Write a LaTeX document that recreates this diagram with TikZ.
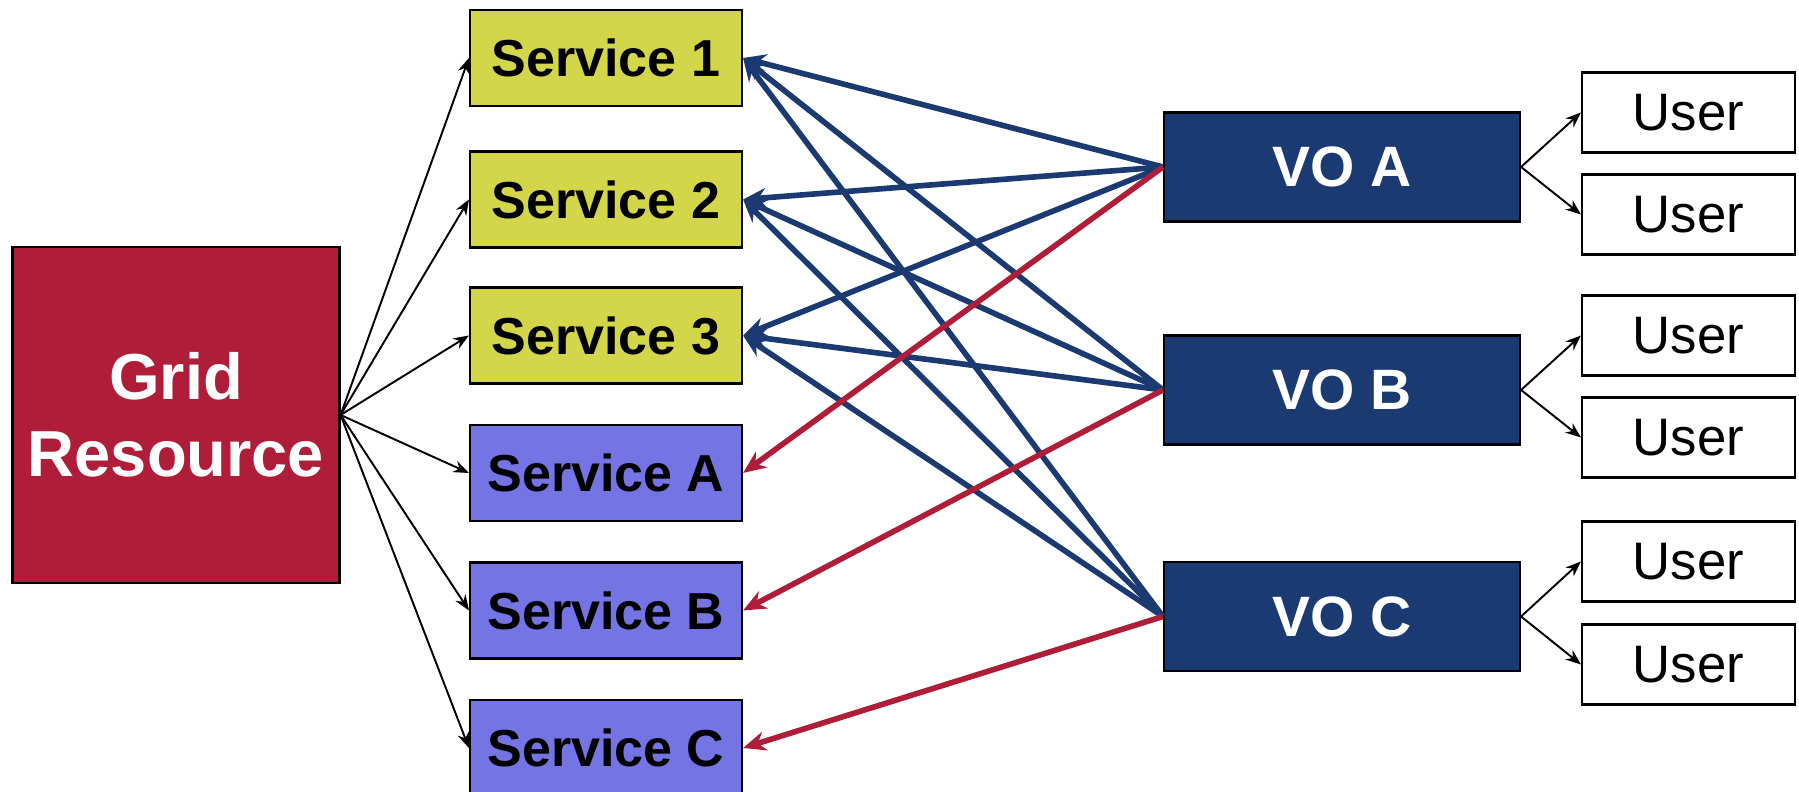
\documentclass[tikz,border=0pt]{standalone}
\usepackage{fontspec}
\setmainfont{Liberation Sans}
\usetikzlibrary{positioning, calc, arrows.meta}
\definecolor{gridred}{RGB}{176,29,57}
\definecolor{svcyellow}{RGB}{212,214,74}
\definecolor{svcblue}{RGB}{116,116,228}
\definecolor{vonavy}{RGB}{28,58,114}
\tikzset{
    resbox/.style={draw=black, line width=0.6pt, fill=gridred, text=white, inner sep=0pt, minimum width=3.27cm, minimum height=3.36cm, align=center, font=\fontsize{18.5}{22}\selectfont\bfseries},
    svcbox/.style={draw=black, line width=0.6pt, inner sep=0pt, minimum width=2.72cm, minimum height=0.96cm, font=\fontsize{14.8}{17}\selectfont\bfseries},
    vobox/.style={draw=black, line width=0.6pt, fill=vonavy, text=white, inner sep=0pt, minimum width=3.56cm, minimum height=1.09cm, font=\fontsize{16.2}{19}\selectfont\bfseries},
    userbox/.style={draw=black, line width=0.6pt, fill=white, inner sep=0pt, minimum width=2.13cm, minimum height=0.80cm, font=\fontsize{15}{18}\selectfont},
    thinarrow/.style={draw=black, line width=0.55pt, -{Stealth[length=4.4pt, width=3.4pt]}},
    bluearrow/.style={draw=vonavy, line width=1.6pt, -{Stealth[length=6.5pt, width=5.5pt]}},
    redarrow/.style={draw=gridred, line width=1.6pt, -{Stealth[length=6.5pt, width=5.5pt]}}
}

\begin{document}
\begin{tikzpicture}
        \useasboundingbox (0,0) rectangle (17.99,7.92);
        % resource
        \node[resbox] (grid) at (1.76,3.77) {Grid\\Resource};
        % services
        \node[svcbox, fill=svcyellow] (s1) at (6.06,7.34) {Service 1};
        \node[svcbox, fill=svcyellow] (s2) at (6.06,5.925) {Service 2};
        \node[svcbox, fill=svcyellow] (s3) at (6.06,4.565) {Service 3};
        \node[svcbox, fill=svcblue] (sa) at (6.06,3.19) {Service A};
        \node[svcbox, fill=svcblue] (sb) at (6.06,1.815) {Service B};
        \node[svcbox, fill=svcblue] (sc) at (6.06,0.44) {Service C};
        % virtual organisations
        \node[vobox] (voa) at (13.42,6.25) {VO A};
        \node[vobox] (vob) at (13.42,4.02) {VO B};
        \node[vobox] (voc) at (13.42,1.755) {VO C};
        % users
        \node[userbox] (ua1) at (16.885,6.795) {User};
        \node[userbox] (ua2) at (16.885,5.775) {User};
        \node[userbox] (ub1) at (16.885,4.565) {User};
        \node[userbox] (ub2) at (16.885,3.545) {User};
        \node[userbox] (uc1) at (16.885,2.305) {User};
        \node[userbox] (uc2) at (16.885,1.275) {User};
        %
        \draw[thinarrow] (grid.east) -- (s1.west);
        \draw[thinarrow] (grid.east) -- (s2.west);
        \draw[thinarrow] (grid.east) -- (s3.west);
        \draw[thinarrow] (grid.east) -- (sa.west);
        \draw[thinarrow] (grid.east) -- (sb.west);
        \draw[thinarrow] (grid.east) -- (sc.west);
        %
        \draw[bluearrow] (voa.west) -- (s1.east);
        \draw[bluearrow] (voa.west) -- (s2.east);
        \draw[bluearrow] (voa.west) -- (s3.east);
        \draw[bluearrow] (vob.west) -- (s1.east);
        \draw[bluearrow] (vob.west) -- (s2.east);
        \draw[bluearrow] (vob.west) -- (s3.east);
        \draw[bluearrow] (voc.west) -- (s1.east);
        \draw[bluearrow] (voc.west) -- (s2.east);
        \draw[bluearrow] (voc.west) -- (s3.east);
        %
        \draw[redarrow] (voa.west) -- (sa.east);
        \draw[redarrow] (vob.west) -- (sb.east);
        \draw[redarrow] (voc.west) -- (sc.east);
        %
        \draw[thinarrow] (voa.east) -- (ua1.west);
        \draw[thinarrow] (voa.east) -- (ua2.west);
        \draw[thinarrow] (vob.east) -- (ub1.west);
        \draw[thinarrow] (vob.east) -- (ub2.west);
        \draw[thinarrow] (voc.east) -- (uc1.west);
        \draw[thinarrow] (voc.east) -- (uc2.west);
    \end{tikzpicture}
\end{document}
